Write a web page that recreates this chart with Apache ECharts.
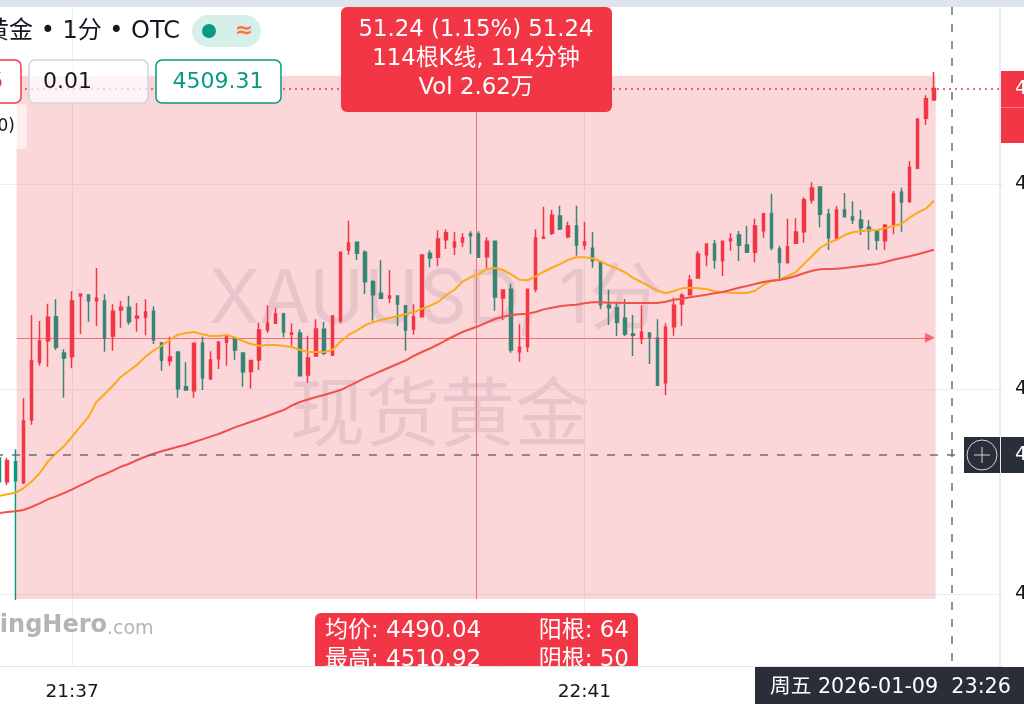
<!DOCTYPE html>
<html>
<head>
<meta charset="utf-8">
<title>现货黄金 1分</title>
<style>
html, body { margin: 0; padding: 0; background: #fff; }
#chart { width: 1024px; height: 704px; }
</style>
<script src="https://cdn.jsdelivr.net/npm/echarts@6/dist/echarts.min.js"></script>
</head>
<body>
<div id="chart"></div>
<script>
// bars -2 .. 113, each row is open, close, low, high
const candles = [
  [4473.27,4470.96,4470.83,4473.98],[4470.96,4473.00,4470.63,4473.30],[4472.91,4471.05,4459.41,4474.12],[4470.86,4476.88,4470.73,4479.12],
  [4476.97,4482.76,4476.52,4487.22],[4482.60,4484.68,4482.27,4486.63],[4484.71,4486.99,4482.17,4488.32],[4487.05,4484.07,4483.80,4488.75],
  [4483.51,4483.02,4479.15,4483.87],[4483.15,4488.58,4482.02,4489.53],[4489.07,4489.27,4485.36,4489.27],[4489.17,4488.61,4486.56,4489.24],
  [4488.61,4488.85,4486.15,4491.80],[4488.58,4484.95,4483.64,4489.24],[4485.17,4487.58,4483.74,4488.26],[4487.71,4487.97,4485.98,4488.58],
  [4487.97,4486.56,4486.27,4489.10],[4486.93,4487.09,4485.59,4488.39],[4487.02,4487.51,4485.24,4488.75],[4487.58,4484.81,4484.39,4488.07],
  [4484.49,4482.80,4481.78,4484.58],[4482.76,4483.12,4482.27,4485.10],[4483.61,4480.03,4479.15,4483.61],[4480.22,4479.90,4479.90,4482.60],
  [4479.83,4484.46,4479.15,4484.52],[4484.46,4481.10,4479.90,4485.10],[4480.97,4482.83,4480.90,4483.68],[4482.96,4484.58,4481.95,4484.65],
  [4484.55,4485.10,4482.27,4485.17],[4484.95,4483.80,4482.86,4485.04],[4483.51,4481.69,4480.22,4483.51],[4481.71,4482.78,4480.05,4482.80],
  [4482.83,4485.76,4481.85,4486.47],[4485.76,4486.41,4485.49,4488.17],[4486.41,4487.32,4486.41,4487.93],[4487.32,4485.56,4485.04,4487.44],
  [4485.34,4485.46,4484.22,4486.41],[4485.46,4481.30,4481.30,4485.82],[4481.37,4483.02,4480.61,4485.20],[4483.22,4485.85,4483.22,4486.80],
  [4485.82,4483.48,4483.29,4486.54],[4483.32,4487.12,4483.22,4487.22],[4486.66,4493.34,4486.41,4493.34],[4493.56,4494.24,4493.10,4496.42],
  [4494.31,4493.24,4492.59,4494.31],[4493.34,4490.47,4489.27,4493.53],[4490.47,4489.20,4486.66,4490.60],[4489.34,4488.85,4488.75,4492.56],
  [4488.88,4489.07,4488.36,4491.61],[4489.07,4488.29,4486.15,4489.07],[4488.13,4485.76,4483.74,4488.13],[4485.82,4487.05,4485.30,4488.26],
  [4487.05,4493.07,4487.02,4493.14],[4493.24,4492.78,4491.87,4493.53],[4492.85,4494.63,4491.97,4495.48],[4494.56,4495.25,4493.66,4495.58],
  [4493.85,4494.34,4493.07,4495.32],[4494.34,4494.73,4493.85,4495.22],[4495.15,4494.96,4493.14,4495.38],[4495.12,4492.85,4492.85,4495.38],
  [4492.91,4494.41,4491.77,4494.80],[4494.41,4488.98,4487.64,4494.41],[4488.88,4489.66,4486.73,4489.73],[4489.73,4483.80,4483.54,4490.27],
  [4483.64,4484.07,4482.66,4486.31],[4484.13,4489.73,4483.61,4489.78],[4489.73,4494.73,4489.43,4495.58],[4494.70,4494.80,4494.70,4497.78],
  [4495.19,4496.95,4495.02,4497.46],[4496.88,4495.61,4495.51,4497.88],[4494.86,4495.90,4494.70,4496.32],[4495.90,4494.05,4493.00,4497.88],
  [4494.05,4494.34,4493.59,4496.32],[4493.73,4492.52,4491.83,4495.32],[4492.36,4488.22,4487.77,4492.42],[4488.17,4487.93,4486.24,4489.69],
  [4487.93,4486.51,4485.17,4488.36],[4486.90,4485.36,4485.17,4488.78],[4485.36,4485.24,4483.22,4487.22],[4484.91,4485.53,4484.39,4488.17],
  [4485.46,4485.07,4482.44,4485.53],[4484.97,4480.36,4480.32,4486.80],[4480.61,4486.02,4479.41,4486.41],[4486.08,4488.17,4485.20,4488.91],
  [4488.29,4489.14,4486.15,4489.34],[4489.20,4490.63,4489.17,4491.12],[4490.83,4493.17,4490.80,4493.46],[4493.10,4494.15,4491.97,4494.15],
  [4494.15,4492.59,4491.74,4494.54],[4492.52,4494.41,4491.02,4494.41],[4494.47,4494.63,4493.49,4495.22],[4495.02,4494.02,4492.49,4495.41],
  [4494.05,4493.34,4493.30,4495.93],[4493.34,4495.90,4492.36,4496.61],[4495.44,4497.10,4494.76,4497.10],[4497.10,4493.78,4493.53,4499.05],
  [4493.66,4492.36,4490.63,4493.98],[4492.32,4493.88,4492.32,4496.61],[4494.21,4495.32,4494.21,4496.65],[4495.35,4498.47,4494.27,4498.70],
  [4498.44,4499.61,4498.08,4500.17],[4499.71,4497.04,4495.77,4499.77],[4497.04,4494.76,4493.56,4497.59],[4494.73,4497.46,4494.51,4497.85],
  [4497.46,4496.81,4496.78,4499.12],[4496.78,4496.49,4496.10,4498.31],[4496.49,4495.74,4495.02,4497.46],[4495.77,4495.44,4493.56,4496.46],
  [4495.44,4494.51,4493.56,4495.51],[4494.47,4495.97,4493.56,4496.10],[4496.07,4499.02,4495.09,4499.32],[4499.19,4498.24,4495.35,4499.64],
  [4498.27,4501.63,4498.27,4502.24],[4501.53,4506.34,4501.53,4506.37],[4506.41,4508.32,4505.76,4508.65],[4508.19,4509.31,4508.19,4510.92]
]
const maFast = [
  4469.56,4469.73,4469.88,4470.31,4470.96,4471.78,4472.91,4473.73,4474.44,4475.35,4476.32,4477.27,4478.76,4479.51,4480.32,4481.20,
  4481.78,4482.37,4483.15,4483.74,4484.22,4484.78,4485.30,4485.46,4485.56,4485.34,4485.17,4485.17,4485.27,4485.04,4484.68,4484.39,
  4484.22,4484.29,4484.29,4484.19,4484.10,4483.83,4483.61,4483.61,4483.61,4483.80,4484.61,4485.27,4485.69,4486.21,4486.51,4486.73,
  4486.93,4487.09,4487.29,4487.48,4487.83,4488.10,4488.49,4489.17,4489.66,4490.47,4490.90,4491.22,4491.71,4491.80,4491.61,4491.19,
  4490.66,4490.60,4490.99,4491.44,4491.83,4492.19,4492.59,4492.85,4492.85,4492.75,4492.46,4492.07,4491.77,4491.38,4490.83,4490.44,
  4490.02,4489.59,4489.34,4489.56,4489.82,4489.88,4489.82,4489.76,4489.53,4489.43,4489.39,4489.37,4489.37,4489.59,4490.15,4490.54,
  4490.70,4491.02,4491.41,4492.19,4492.97,4493.78,4494.24,4494.56,4495.02,4495.29,4495.38,4495.48,4495.51,4495.68,4495.90,4496.10,
  4496.71,4497.20,4497.59,4498.37
]
const maSlow = [
  4467.90,4468.00,4468.07,4468.19,4468.49,4468.85,4469.24,4469.53,4469.85,4470.21,4470.60,4470.96,4471.38,4471.68,4472.03,4472.42,
  4472.71,4473.07,4473.39,4473.69,4473.92,4474.15,4474.37,4474.56,4474.83,4475.09,4475.35,4475.61,4475.93,4476.26,4476.52,4476.81,
  4477.07,4477.37,4477.66,4477.95,4478.39,4478.73,4478.97,4479.22,4479.41,4479.66,4479.90,4480.29,4480.68,4481.07,4481.41,4481.76,
  4482.10,4482.44,4482.78,4483.22,4483.61,4483.95,4484.34,4484.78,4485.17,4485.56,4485.85,4486.15,4486.49,4486.83,4487.05,4487.22,
  4487.29,4487.35,4487.51,4487.77,4487.93,4488.07,4488.17,4488.22,4488.36,4488.46,4488.46,4488.42,4488.42,4488.39,4488.39,4488.39,
  4488.39,4488.39,4488.52,4488.71,4488.81,4488.95,4489.07,4489.20,4489.34,4489.46,4489.66,4489.88,4490.05,4490.24,4490.44,4490.56,
  4490.63,4490.80,4491.02,4491.29,4491.54,4491.68,4491.71,4491.74,4491.80,4491.90,4492.00,4492.10,4492.19,4492.39,4492.61,4492.78,
  4492.95,4493.14,4493.37,4493.59
]
const tickLabels = ['21:37', '22:41']
const tickBars = [7, 70]
const statsLeft = ['均价: 4490.04', '最高: 4510.92']
const statsRight = ['阳根: 64', '阴根: 50']
const infoLines = ['51.24 (1.15%) 51.24', '114根K线, 114分钟', 'Vol 2.62万']
const lastPrice = 4509.31
const crossPrice = 4473.56

// one minute per bar, the minute before 22:41 has no bar
const barTimes = []
let minute = 21 * 60 + 28
for (let i = 0; i < 124; i++) {
  if (i === 72) minute++
  barTimes.push(String(Math.floor(minute / 60)) + ':' + String(minute % 60).padStart(2, '0'))
  minute++
}

const FONT = '"DejaVu Sans", "Noto Sans CJK SC", sans-serif'
const MARK_FONT = 'Inter, "Noto Sans CJK SC", sans-serif'
const RED = '#f23645'
const GREEN = '#089981'
const DARK = '#2a2e39'
const TEXT = '#131722'

// selected range
const rangeL = 0.17, rangeR = 113.2, rangeMid = 56.7
const rangeHigh = 4510.57, rangeLow = 4459.51, rangeCenter = 4485
const plotTop = 4517.27, plotBottom = 4452.98
const crossBar = 115.2

function txt(x, y, text, size, fill, align, z, weight, family) {
  return {
    type: 'text', x: x, y: y, z: z, silent: true,
    style: { text: text, fill: fill, align: align || 'left', verticalAlign: 'middle',
      font: (weight || 'normal') + ' ' + size + 'px ' + (family || FONT) }
  }
}
function box(x, y, w, h, r, fill, z, stroke) {
  return {
    type: 'rect', z: z, silent: true,
    shape: { x: x, y: y, width: w, height: h, r: r },
    style: { fill: fill, stroke: stroke || null, lineWidth: stroke ? 1.5 : 0 }
  }
}

const gridLines = tickBars.map(function (b) {
  return [{ coord: [b, plotTop] }, { coord: [b, plotBottom] }]
})

const graphics = [
  // watermark
  txt(436, 301, 'XAUUSD, 1分', 74, '#e6e9ec', 'center', 0, 'normal', MARK_FONT),
  txt(440, 417, '现货黄金', 75, '#e6e9ec', 'center', 0, 'normal', MARK_FONT),
  // logo
  txt(107, 626, 'TradingHero', 24, '#b4b4b6', 'right', 6, 'bold'),
  txt(107, 629, '.com', 19, '#b4b4b6', 'left', 6),
  // header
  txt(180, 32, '现货黄金 • 1分 • OTC', 24, TEXT, 'right', 12),
  box(192, 15, 69, 32, 16, '#d7efe9', 12),
  { type: 'circle', z: 13, silent: true, shape: { cx: 209, cy: 31, r: 7 }, style: { fill: GREEN } },
  txt(244, 31, '≈', 22, '#ff7043', 'center', 13, 'bold'),
  // bid, spread, ask
  box(-104, 60, 125, 43, 6, '#fff', 12, RED),
  txt(-42, 82, '4509.35', 22, RED, 'center', 13),
  box(29, 60, 119, 43, 6, 'rgba(255,255,255,0.72)', 12, '#d1d4dc'),
  txt(43, 82, '0.01', 22, TEXT, 'left', 13),
  box(156, 60, 125, 43, 6, '#fff', 12, GREEN),
  txt(218, 82, '4509.31', 22, GREEN, 'center', 13),
  // legend row, cut at the window edge
  box(-200, 104, 227, 45, 4, 'rgba(255,255,255,0.55)', 11),
  txt(15, 127, '(20, close, 0)', 17, TEXT, 'right', 12),
  // info box over the selection
  box(341, 7, 271, 105, 6, RED, 12)
]
infoLines.forEach(function (t, i) {
  graphics.push(txt(476, 30 + i * 29, t, 22.8, '#fff', 'center', 13))
})
// stats box is cut off by the time axis strip
graphics.push(box(315, 613, 323, 70, 6, RED, 12))
statsLeft.forEach(function (t, i) {
  graphics.push(txt(325, 631 + i * 29, t, 23, '#fff', 'left', 13))
  graphics.push(txt(629, 631 + i * 29, statsRight[i], 23, '#fff', 'right', 13))
})
graphics.push(
  box(0, 0, 1024, 7, 0, '#dfe3ec', 25),
  box(0, 667, 1024, 37, 0, '#fff', 20),
  // price tag
  box(1001, 71, 23, 72, 0, RED, 26),
  box(1001, 107, 23, 1, 0, 'rgba(255,255,255,0.3)', 27),
  txt(1015, 89, '4509.31', 19, '#fff', 'left', 27),
  // crosshair tags
  box(964, 437, 36, 36, 0, DARK, 26),
  box(1001, 437, 23, 36, 0, DARK, 26),
  txt(1015, 455, String(crossPrice), 19, '#fff', 'left', 27),
  { type: 'circle', z: 27, silent: true, shape: { cx: 982, cy: 455, r: 15 }, style: { fill: 'none', stroke: '#d1d4dc', lineWidth: 1 } },
  { type: 'line', z: 27, silent: true, shape: { x1: 974, y1: 455, x2: 990, y2: 455 }, style: { stroke: '#d1d4dc', lineWidth: 1 } },
  { type: 'line', z: 27, silent: true, shape: { x1: 982, y1: 447, x2: 982, y2: 463 }, style: { stroke: '#d1d4dc', lineWidth: 1 } },
  box(755, 667, 269, 37, 0, DARK, 31),
  txt(770, 688, '周五 2026-01-09  23:26', 20.7, '#fff', 'left', 32)
)

const chart = echarts.init(document.getElementById('chart'))
chart.setOption({
  animation: false,
  backgroundColor: '#fff',
  textStyle: { fontFamily: FONT },
  grid: { left: -5.03, top: -21, width: 1008.12, height: 820, outerBoundsMode: 'none' },
  xAxis: [
    {
      type: 'category',
      data: barTimes,
      boundaryGap: true,
      position: 'bottom',
      offset: -133,
      z: 30,
      axisLine: { onZero: false, lineStyle: { color: '#dfe3ec', width: 1 } },
      axisTick: { show: false },
      splitLine: { show: false },
      axisLabel: {
        margin: 17,
        color: TEXT,
        fontSize: 18.5,
        fontFamily: FONT,
        hideOverlap: false,
        interval: function (i, v) { return tickLabels.indexOf(v) >= 0 }
      }
    },
    // bar numbers as a plain scale, for the selection and crosshair
    { type: 'value', min: -2.5, max: 121.5, show: false, splitLine: { show: false } }
  ],
  yAxis: {
    type: 'value',
    position: 'right',
    min: 4440,
    max: 4520,
    interval: 20,
    offset: -3,
    axisLine: { show: true, onZero: false, lineStyle: { color: '#dfe3ec', width: 1.5 } },
    axisTick: { show: false },
    splitLine: { show: true, lineStyle: { color: '#ebedf3', width: 1 } },
    axisLabel: { margin: 15, color: TEXT, fontSize: 19, fontFamily: FONT, align: 'left',
      formatter: function (v) { return String(v) } }
  },
  graphic: { elements: graphics },
  series: [
    {
      name: 'grid', type: 'line', xAxisIndex: 1, data: [], z: 1, silent: true,
      markLine: { z: 1, silent: true, symbol: 'none', label: { show: false }, animation: false,
        lineStyle: { color: '#ebedf3', type: 'solid', width: 1 }, data: gridLines }
    },
    {
      name: 'K', type: 'candlestick', data: candles, barWidth: 3, z: 2, silent: true,
      itemStyle: { color: RED, color0: GREEN, borderColor: RED, borderColor0: GREEN, borderWidth: 1.5 },
      markLine: { z: 5, silent: true, symbol: 'none', label: { show: false }, animation: false,
        lineStyle: { color: RED, type: [2, 4], width: 1.5 }, data: [{ yAxis: lastPrice }] }
    },
    {
      name: 'range', type: 'line', xAxisIndex: 1, data: [], z: 3, silent: true,
      markArea: { z: 3, silent: true, animation: false, label: { show: false },
        itemStyle: { color: 'rgba(242,54,69,0.2)' },
        data: [[{ coord: [rangeL, rangeHigh] }, { coord: [rangeR, rangeLow] }]] },
      markLine: { z: 4, silent: true, symbol: ['none', 'triangle'], symbolSize: 10, label: { show: false }, animation: false,
        lineStyle: { color: 'rgba(242,54,69,0.65)', type: 'solid', width: 1 },
        data: [
          [{ coord: [rangeL, rangeCenter] }, { coord: [112.5, rangeCenter] }],
          [{ coord: [rangeMid, rangeLow] }, { coord: [rangeMid, rangeHigh] }]
        ] }
    },
    { name: 'MA20', type: 'line', data: maFast, z: 4, symbol: 'none', silent: true, lineStyle: { color: '#fbaa1e', width: 2 } },
    { name: 'MA60', type: 'line', data: maSlow, z: 4, symbol: 'none', silent: true, lineStyle: { color: '#f0524a', width: 2 } },
    {
      name: 'cross', type: 'line', xAxisIndex: 1, data: [], z: 5, silent: true,
      markLine: { z: 6, silent: true, symbol: 'none', label: { show: false }, animation: false,
        lineStyle: { color: '#6a6d78', type: [8, 9], width: 1.5 },
        data: [
          [{ coord: [-2.5, crossPrice] }, { coord: [116.7, crossPrice] }],
          [{ coord: [crossBar, plotTop] }, { coord: [crossBar, plotBottom] }]
        ] }
    }
  ]
})
</script>
</body>
</html>
